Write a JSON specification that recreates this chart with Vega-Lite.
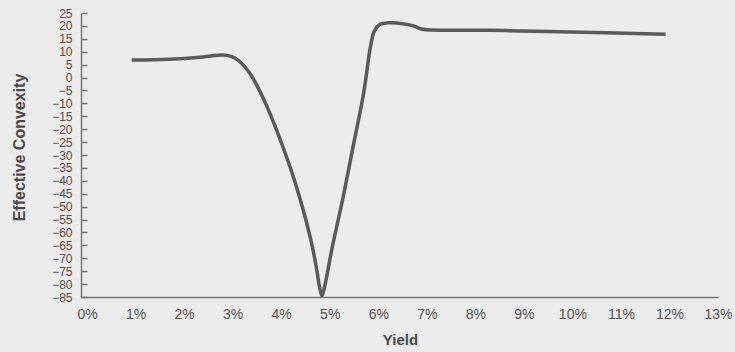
{
  "$schema": "https://vega.github.io/schema/vega-lite/v6.json",
  "autosize": {"type": "none"},
  "width": 637,
  "height": 284,
  "padding": {"left": 81, "top": 13, "right": 17, "bottom": 55},
  "background": "#ececec",
  "config": {"view": {"stroke": null}},
  "data": {"values": [
    {"yield": 0.92, "convexity": 6.8},
    {"yield": 1.4, "convexity": 6.9},
    {"yield": 1.92, "convexity": 7.3},
    {"yield": 2.4, "convexity": 8.0},
    {"yield": 2.78, "convexity": 8.7},
    {"yield": 2.97, "convexity": 8.2},
    {"yield": 3.12, "convexity": 6.6},
    {"yield": 3.36, "convexity": 1.5},
    {"yield": 3.63, "convexity": -8},
    {"yield": 3.92, "convexity": -21},
    {"yield": 4.19, "convexity": -35},
    {"yield": 4.39, "convexity": -47},
    {"yield": 4.6, "convexity": -62},
    {"yield": 4.72, "convexity": -73},
    {"yield": 4.79, "convexity": -81},
    {"yield": 4.84, "convexity": -84.5},
    {"yield": 4.895, "convexity": -81},
    {"yield": 5.05, "convexity": -66},
    {"yield": 5.28, "convexity": -46},
    {"yield": 5.49, "convexity": -26},
    {"yield": 5.7, "convexity": -6},
    {"yield": 5.84, "convexity": 12},
    {"yield": 5.92, "convexity": 18},
    {"yield": 6.04, "convexity": 20.6},
    {"yield": 6.2, "convexity": 21.2},
    {"yield": 6.39, "convexity": 21.1},
    {"yield": 6.55, "convexity": 20.7},
    {"yield": 6.73, "convexity": 20.0},
    {"yield": 6.87, "convexity": 18.9},
    {"yield": 7.0, "convexity": 18.5},
    {"yield": 8.31, "convexity": 18.3},
    {"yield": 9.75, "convexity": 17.7},
    {"yield": 11.92, "convexity": 16.8}
  ]},
  "mark": {"type": "line", "interpolate": "catmull-rom", "color": "#5a5a5a", "strokeWidth": 3.5, "clip": false},
  "encoding": {
    "x": {
      "field": "yield", "type": "quantitative",
      "scale": {"domain": [-0.124, 13], "nice": false, "zero": false},
      "axis": {
        "title": "Yield",
        "values": [0,1,2,3,4,5,6,7,8,9,10,11,12,13],
        "labelExpr": "datum.value + '%'",
        "ticks": false,
        "grid": false,
        "domainColor": "#777777",
        "domainWidth": 1.5,
        "labelFont": "Liberation Sans, Arial, sans-serif",
        "labelFontSize": 14,
        "labelColor": "#555555",
        "labelBaseline": "alphabetic",
        "labelPadding": 21,
        "labelOverlap": false,
        "labelFlush": false,
        "labelBound": false,
        "titleFont": "Liberation Sans, Arial, sans-serif",
        "titleFontSize": 15,
        "titleFontWeight": "bold",
        "titleColor": "#4a4a4a",
        "titleX": 319,
        "titleY": 47.5,
        "titleBaseline": "alphabetic",
        "titleAlign": "center"
      }
    },
    "y": {
      "field": "convexity", "type": "quantitative",
      "scale": {"domain": [-85, 25], "nice": false, "zero": false},
      "axis": {
        "title": "Effective Convexity",
        "values": [25,20,15,10,5,0,-5,-10,-15,-20,-25,-30,-35,-40,-45,-50,-55,-60,-65,-70,-75,-80,-85],
        "ticks": true,
        "tickSize": -6,
        "tickColor": "#777777",
        "tickWidth": 1.5,
        "grid": false,
        "domainColor": "#777777",
        "domainWidth": 1.5,
        "labelFont": "Liberation Sans Narrow, Liberation Sans, Arial, sans-serif",
        "labelFontSize": 12,
        "labelColor": "#4f4f4f",
        "labelPadding": 15,
        "labelOverlap": false,
        "labelFlush": false,
        "labelBound": false,
        "titleFont": "Liberation Sans, Arial, sans-serif",
        "titleFontSize": 16,
        "titleFontWeight": "bold",
        "titleColor": "#4a4a4a",
        "titleX": -62,
        "titleY": 134,
        "titleAngle": -90,
        "titleAlign": "center",
        "titleBaseline": "middle"
      }
    }
  }
}
